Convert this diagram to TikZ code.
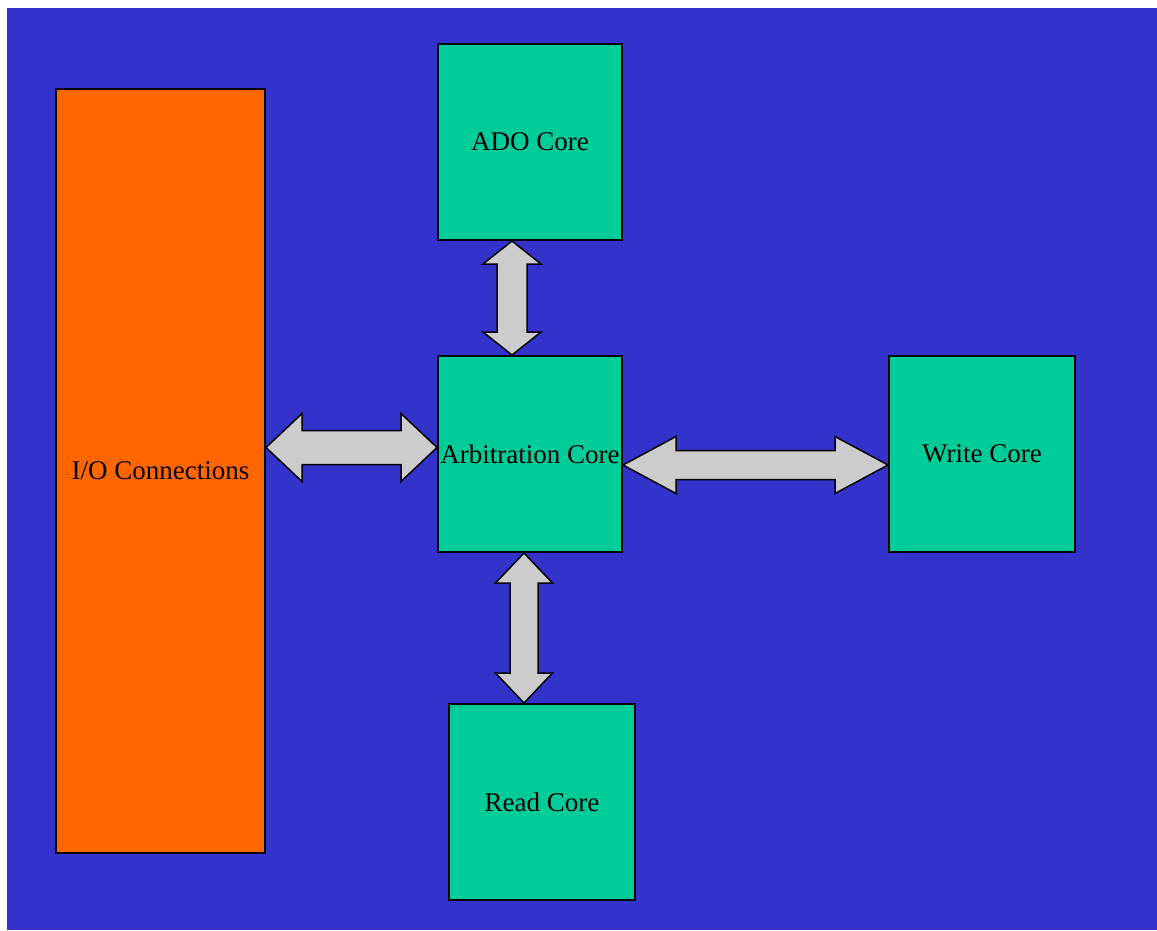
\documentclass[tikz,border=0pt]{standalone}
\usepackage{fontspec}
\setmainfont{Liberation Serif}
\usetikzlibrary{calc}
\definecolor{bgblue}{HTML}{3333CC}
\definecolor{ioorange}{HTML}{FF6600}
\definecolor{coregreen}{HTML}{00CC99}
\definecolor{arrowgray}{HTML}{CCCCCC}
\tikzset{
  block/.style={draw=black, line width=2pt, inner sep=0pt, anchor=north west,
    font=\fontsize{27}{30}\selectfont, text=black, align=center},
  corebox/.style={block, fill=coregreen},
  iobox/.style={block, fill=ioorange},
  fatarrow/.style={draw=black, line width=1.5pt, fill=arrowgray, line join=miter}
}
% double-headed block arrow between two points:
% #1 start, #2 end, #3 shaft half width, #4 head half width, #5 head length
\newcommand\blockarrow[5]{%
  \path[fatarrow] (#1)
    -- ($(#1)!#5!(#2)!#4!90:(#2)$)
    -- ($(#1)!#5!(#2)!#3!90:(#2)$)
    -- ($(#2)!#5!(#1)!#3!-90:(#1)$)
    -- ($(#2)!#5!(#1)!#4!-90:(#1)$)
    -- (#2)
    -- ($(#2)!#5!(#1)!#4!90:(#1)$)
    -- ($(#2)!#5!(#1)!#3!90:(#1)$)
    -- ($(#1)!#5!(#2)!#3!-90:(#2)$)
    -- ($(#1)!#5!(#2)!#4!-90:(#2)$)
    -- cycle;}
\begin{document}
\begin{tikzpicture}[x=1pt,y=-1pt]
  % page and background
  \fill[white] (0,0) rectangle (1157,930);
  \fill[bgblue] (7,8) rectangle (1157,930);

  % blocks
  \node[iobox, minimum width=209pt, minimum height=764pt] (io) at (55,88) {I/O Connections};
  \node[corebox, minimum width=184pt, minimum height=196pt] (ado) at (437,43) {ADO Core};
  \node[corebox, minimum width=184pt, minimum height=196pt] (arb) at (437,355) {Arbitration Core};
  \node[corebox, minimum width=186pt, minimum height=196pt] (wr) at (888,355) {Write Core};
  \node[corebox, minimum width=186pt, minimum height=196pt] (rd) at (448,703) {Read Core};

  % arrow end points on the block edges
  \coordinate (ioA) at (io.east |- 0,447.5);
  \coordinate (arbW) at (arb.west |- 0,447.5);
  \coordinate (arbE) at (arb.east |- 0,465);
  \coordinate (wrW) at (wr.west |- 0,465);
  \coordinate (adoS) at (ado.south -| 512,0);
  \coordinate (arbN) at (arb.north -| 512,0);
  \coordinate (arbS) at (arb.south -| 524,0);
  \coordinate (rdN) at (rd.north -| 524,0);

  % connectors
  \blockarrow{ioA}{arbW}{17pt}{34pt}{36pt}
  \blockarrow{arbE}{wrW}{14.5pt}{28.5pt}{53pt}
  \blockarrow{adoS}{arbN}{15pt}{29pt}{23pt}
  \blockarrow{arbS}{rdN}{14pt}{28.5pt}{30pt}
\end{tikzpicture}
\end{document}
